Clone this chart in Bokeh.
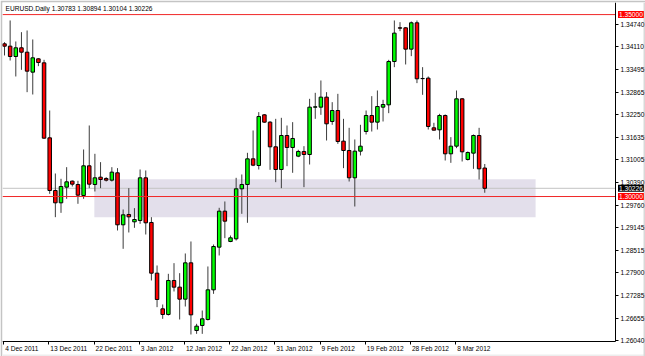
from bokeh.plotting import figure
from bokeh.models import (ColumnDataSource, FixedTicker, Label, Range1d,
                          BoxAnnotation, PrintfTickFormatter)
from bokeh.embed import file_html
from bokeh.resources import INLINE

# ---------------- data ----------------
chart_title = "EURUSD.Daily  1.30783 1.30894 1.30104 1.30226"

date_labels = ["4 Dec 2011", "13 Dec 2011", "22 Dec 2011", "3 Jan 2012", "12 Jan 2012",
               "22 Jan 2012", "31 Jan 2012", "9 Feb 2012", "19 Feb 2012", "28 Feb 2012",
               "8 Mar 2012"]
date_label_bars = [0, 8, 16, 24, 32, 40, 48, 56, 64, 72, 80]

price_ticks = [1.26040, 1.26655, 1.27285, 1.27900, 1.28515, 1.29145, 1.29760, 1.30390,
               1.31005, 1.31635, 1.32250, 1.32865, 1.33495, 1.34110, 1.34740]

opens = [1.34196, 1.34132, 1.33848, 1.34087, 1.33967, 1.33418, 1.33784, 1.33674, 1.31613, 1.30166,
         1.29827, 1.30258, 1.30423, 1.30331, 1.30029, 1.30844, 1.30331, 1.30532, 1.30496, 1.30450,
         1.30652, 1.29223, 1.29507, 1.29305, 1.29342, 1.30514, 1.29287, 1.27894, 1.26914, 1.26759,
         1.27693, 1.27510, 1.27180, 1.28178, 1.26319, 1.26456, 1.26621, 1.27436, 1.28609, 1.29598,
         1.28765, 1.28838, 1.30212, 1.30331, 1.31036, 1.30853, 1.32245, 1.32044, 1.31366, 1.30743,
         1.31677, 1.31348, 1.31110, 1.31238, 1.31155, 1.32456, 1.32456, 1.32731, 1.32062, 1.32364,
         1.31522, 1.31265, 1.30514, 1.31247, 1.31787, 1.32227, 1.32044, 1.32456, 1.32520, 1.33711,
         1.34636, 1.34636, 1.34050, 1.34774, 1.33244, 1.33253, 1.31888, 1.31833, 1.32227, 1.31174,
         1.31384, 1.32685, 1.31018, 1.31192, 1.31677, 1.30783]
highs = [1.34242, 1.34838, 1.34261, 1.34517, 1.34563, 1.34316, 1.33803, 1.33757, 1.32364, 1.30633,
         1.30487, 1.30807, 1.30441, 1.30432, 1.31293, 1.31952, 1.31174, 1.30945, 1.30532, 1.30807,
         1.30780, 1.29644, 1.30230, 1.29681, 1.30743, 1.30716, 1.29433, 1.28105, 1.27033, 1.27876,
         1.28169, 1.27894, 1.28435, 1.28765, 1.26502, 1.26868, 1.28078, 1.28682, 1.29690, 1.29864,
         1.28929, 1.30514, 1.30606, 1.31201, 1.31815, 1.32319, 1.32264, 1.32071, 1.32135, 1.32163,
         1.31952, 1.32044, 1.31284, 1.31384, 1.32685, 1.32850, 1.33189, 1.32868, 1.32593, 1.32822,
         1.32135, 1.31888, 1.31568, 1.31971, 1.32364, 1.32758, 1.32914, 1.32658, 1.33757, 1.34838,
         1.34792, 1.34654, 1.34810, 1.34838, 1.33555, 1.33299, 1.32026, 1.32273, 1.32255, 1.31632,
         1.32914, 1.32703, 1.31238, 1.31705, 1.31888, 1.30894]
lows = [1.33876, 1.33738, 1.33299, 1.33482, 1.32868, 1.32804, 1.33583, 1.31586, 1.30074, 1.29433,
        1.29552, 1.29937, 1.30276, 1.29800, 1.29937, 1.30230, 1.30139, 1.30230, 1.30413, 1.30413,
        1.29067, 1.28563, 1.29012, 1.29140, 1.29250, 1.28957, 1.27693, 1.26960, 1.26639, 1.26731,
        1.27391, 1.26621, 1.26978, 1.26209, 1.26227, 1.26227, 1.26594, 1.27326, 1.28380, 1.28856,
        1.28746, 1.28792, 1.29525, 1.29278, 1.30835, 1.30743, 1.32026, 1.30734, 1.30395, 1.30230,
        1.30835, 1.30652, 1.31082, 1.30258, 1.30880, 1.32135, 1.32245, 1.31540, 1.31971, 1.31448,
        1.30780, 1.30413, 1.29726, 1.31128, 1.31705, 1.31787, 1.31842, 1.32062, 1.32291, 1.33555,
        1.34545, 1.33629, 1.33858, 1.33116, 1.32795, 1.31842, 1.31815, 1.31568, 1.30990, 1.30926,
        1.31329, 1.30963, 1.30990, 1.30761, 1.30468, 1.30104]
closes = [1.34132, 1.33848, 1.34087, 1.33967, 1.33445, 1.33812, 1.33683, 1.31604, 1.30166, 1.29827,
          1.30276, 1.30404, 1.30340, 1.30038, 1.30844, 1.30340, 1.30514, 1.30468, 1.30450, 1.30670,
          1.29223, 1.29497, 1.29442, 1.29369, 1.30514, 1.29278, 1.27894, 1.27171, 1.26759, 1.27693,
          1.27510, 1.27180, 1.28178, 1.26749, 1.26438, 1.26639, 1.27436, 1.28627, 1.29598, 1.29323,
          1.28865, 1.30212, 1.30331, 1.31036, 1.30862, 1.32200, 1.32044, 1.31366, 1.30743, 1.31677,
          1.31348, 1.31595, 1.31238, 1.31155, 1.32456, 1.32465, 1.32731, 1.31998, 1.32364, 1.31513,
          1.31265, 1.30514, 1.31247, 1.31384, 1.32227, 1.32044, 1.32474, 1.32529, 1.33711, 1.34490,
          1.34627, 1.34050, 1.34774, 1.33235, 1.33240, 1.31925, 1.31824, 1.32227, 1.31174, 1.31384,
          1.32685, 1.31229, 1.31210, 1.31677, 1.30761, 1.30226]

zone_first_bar, zone_last_bar = 15.9, 94.0
zone_top, zone_bottom = 1.30477, 1.29433
level_lines = [1.35000, 1.30000]
last_price = 1.30226

# ---------------- figure ----------------
FONT = "Liberation Sans"
FS = "6.6px"

# frame covers the whole window except a 2px frame on the left/top;
# the price and time scales sit at fixed places inside it
X0, X1 = -0.354, 113.45          # visible bar range (left edge .. right window edge)
Y0, Y1 = 1.25604, 1.35332        # visible price range (bottom window edge .. top)
AXIS_X = 108.14                  # bar coordinate of the price scale line
AXIS_Y = 1.26016                 # price of the time scale line

bars = list(range(len(opens)))
src = ColumnDataSource(dict(
    x=bars, o=opens, h=highs, l=lows, c=closes,
    top=[max(a, b) for a, b in zip(opens, closes)],
    bottom=[min(a, b) for a, b in zip(opens, closes)],
    color=["#00ff00" if c >= o else "#ff0000" for o, c in zip(opens, closes)],
))

p = figure(width=645, height=356, output_backend="svg", toolbar_location=None,
           x_range=Range1d(X0, X1), y_range=Range1d(Y0, Y1),
           y_axis_location="right", x_axis_location="below",
           min_border_left=2, min_border_right=0, min_border_top=2, min_border_bottom=0)
p.title.visible = False
p.xgrid.visible = False
p.ygrid.visible = False
p.outline_line_color = None
p.background_fill_color = "white"
p.border_fill_color = "#c4c4c4"

ya = p.yaxis[0]
ya.fixed_location = AXIS_X
ya.bounds = (AXIS_Y, Y1)
ya.ticker = FixedTicker(ticks=price_ticks)
ya.formatter = PrintfTickFormatter(format="%.5f")
ya.major_tick_out = 3
ya.major_tick_in = 0
ya.minor_tick_out = 0
ya.minor_tick_in = 0
ya.major_label_standoff = 2
ya.axis_line_color = "black"
ya.major_tick_line_color = "black"
ya.major_label_text_font = FONT
ya.major_label_text_font_size = FS
ya.major_label_text_color = "black"

xa = p.xaxis[0]
xa.fixed_location = AXIS_Y
xa.bounds = (X0, AXIS_X)
xa.ticker = FixedTicker(ticks=[b - 0.15 for b in date_label_bars])
xa.major_tick_out = 3
xa.major_tick_in = 0
xa.minor_tick_out = 0
xa.minor_tick_in = 0
xa.major_label_standoff = 0
xa.major_label_text_font_size = "1px"
xa.major_label_text_color = None
xa.axis_line_color = "black"
xa.major_tick_line_color = "black"

# window edges (light grey strip at bottom and right)
p.add_layout(BoxAnnotation(top=1.25659, fill_color="#ededed", fill_alpha=1.0,
                           line_color=None, level="underlay"))
p.add_layout(BoxAnnotation(left=113.1, fill_color="#d8d8d8", fill_alpha=1.0,
                           line_color=None, level="underlay"))

# zone rectangle (background)
p.add_layout(BoxAnnotation(left=zone_first_bar, right=zone_last_bar, top=zone_top,
                           bottom=zone_bottom, fill_color="#e3dfeb", fill_alpha=1.0,
                           line_color=None, level="underlay"))

# bid line (behind candles)
p.segment(x0=[X0], y0=[last_price], x1=[AXIS_X], y1=[last_price],
          line_color="#c4c4c4", line_width=1)

# candles
p.segment(x0="x", y0="l", x1="x", y1="h", source=src, line_color="#3c3c3c", line_width=1)
p.vbar(x="x", width=0.62, top="top", bottom="bottom", source=src,
       fill_color="color", line_color="black", line_width=1)

# horizontal levels
p.segment(x0=[X0] * len(level_lines), y0=level_lines, x1=[AXIS_X] * len(level_lines),
          y1=level_lines, line_color="#f02828", line_width=1)

# title text
p.add_layout(Label(x=3, y=1.35167, x_units="screen", y_units="data", text=chart_title,
                   text_font=FONT, text_font_size=FS, text_color="black",
                   text_baseline="middle", text_align="left"))

# date labels
for b, t in zip(date_label_bars, date_labels):
    p.add_layout(Label(x=b - 0.15, y=1.25811, x_units="data", y_units="data", x_offset=1.5,
                       text=t, text_font=FONT, text_font_size=FS, text_color="black",
                       text_baseline="middle", text_align="left"))

# price boxes on the scale
for lv, bg in [(level_lines[0], "#ff0000"), (last_price, "#000000"), (level_lines[1], "#ff0000")]:
    p.add_layout(Label(x=AXIS_X, y=lv, x_units="data", y_units="data", x_offset=2.5,
                       text="%.5f" % lv, text_font=FONT, text_font_size=FS,
                       text_color="white", background_fill_color=bg, padding=1,
                       text_baseline="middle", text_align="left"))

open("out.html", "w").write(file_html(p, INLINE))
